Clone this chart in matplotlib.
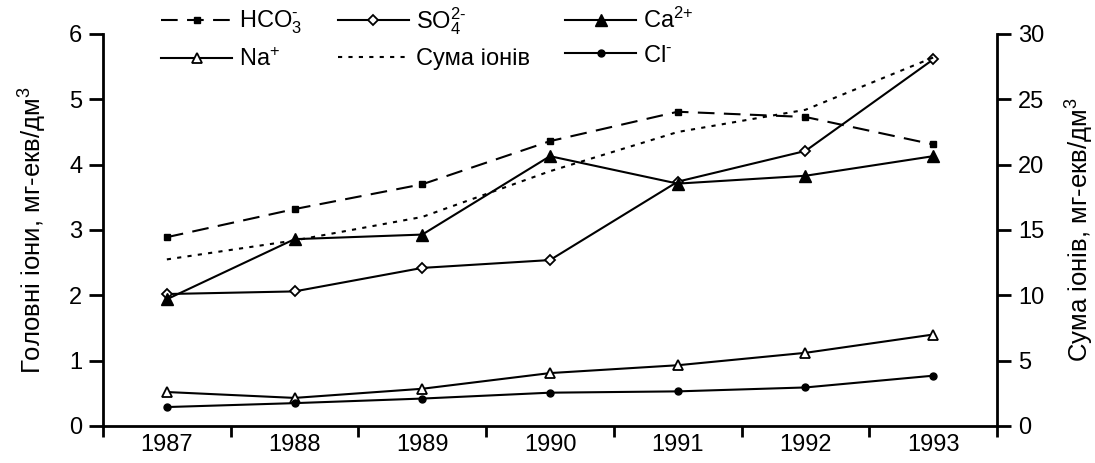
import matplotlib
matplotlib.use("Agg")
import matplotlib.pyplot as plt

plt.rcParams['font.family'] = ['Liberation Sans', 'DejaVu Sans']
plt.rcParams['mathtext.fontset'] = 'custom'
plt.rcParams['mathtext.rm'] = 'Liberation Sans'
plt.rcParams['mathtext.it'] = 'Liberation Sans'
plt.rcParams['mathtext.default'] = 'regular'

years = ['1987', '1988', '1989', '1990', '1991', '1992', '1993']
hco3 = [2.89, 3.32, 3.70, 4.36, 4.81, 4.73, 4.31]
so4 = [2.02, 2.06, 2.42, 2.54, 3.74, 4.21, 5.61]
ca = [1.94, 2.86, 2.93, 4.13, 3.71, 3.83, 4.13]
na = [0.52, 0.43, 0.57, 0.81, 0.93, 1.12, 1.40]
cl = [0.29, 0.35, 0.42, 0.51, 0.53, 0.59, 0.77]
suma = [12.75, 14.2, 16.0, 19.5, 22.5, 24.2, 28.2]

fig = plt.figure(figsize=(10.95, 4.63), dpi=100)
ax = fig.add_axes([103/1095, 1-426/463, (997-103)/1095, (426-34)/463])
ax2 = ax.twinx()

x = list(range(len(years)))
lw = 1.5
h1, = ax.plot(x, hco3, color='black', lw=lw, ls=(0, (8, 4.5)), marker='s', ms=5,
              mfc='black', label='HCO$_3^{‐}$')
h2, = ax.plot(x, so4, color='black', lw=lw, marker='D', ms=5, mfc='white',
              mew=1.3, label=r'SO$_4^{\text{2‐}}$')
h3, = ax.plot(x, ca, color='black', lw=lw, marker='^', ms=8, mfc='black',
              label=r'Ca$^{\text{2+}}$')
h4, = ax.plot(x, na, color='black', lw=lw, marker='^', ms=7, mfc='white',
              mew=1.3, label=r'Na$^{\text{+}}$')
h6, = ax.plot(x, cl, color='black', lw=lw, marker='o', ms=5, mfc='black',
              label='Cl$^{‐}$')
h5, = ax2.plot(x, suma, color='black', lw=lw, ls=(0, (2.0, 3.0)),
               label='Сума іонів')

ax.set_xlim(-0.5, 6.5)
ax.set_ylim(0, 6)
ax2.set_ylim(0, 30)
ax.set_yticks(range(0, 7))
ax2.set_yticks(range(0, 31, 5))

fs = 17
ax.set_xticks([i - 0.5 for i in range(len(years) + 1)])
ax.set_xticklabels([])
ax.set_xticks(x, minor=True)
ax.set_xticklabels(years, minor=True)
ax.tick_params(axis='x', which='minor', length=0, pad=6, labelsize=fs)
ax.tick_params(axis='x', which='major', length=8, width=2, direction='out')
ax.tick_params(axis='y', length=10, width=2, direction='out', labelsize=fs, pad=5)
ax2.tick_params(axis='y', length=10, width=2, direction='out', labelsize=fs, pad=5)

for a in (ax, ax2):
    a.spines['top'].set_visible(False)
    for s in ('left', 'right', 'bottom'):
        a.spines[s].set_linewidth(2)
ax.spines['right'].set_visible(False)
ax2.spines['left'].set_visible(False)
ax2.spines['bottom'].set_visible(False)

ax.set_ylabel('Головні іони, мг-екв/дм$^3$', fontsize=18.5, labelpad=14)
ax2.set_ylabel('Сума іонів, мг-екв/дм$^3$', fontsize=18.5, labelpad=14)

handles = [h1, h4, h2, h5, h3, h6]
leg = fig.legend(handles=handles, labels=[h.get_label() for h in handles],
                 ncol=3, frameon=False, fontsize=17, handlelength=3.0,
                 columnspacing=1.5, handletextpad=0.3, labelspacing=0.5,
                 loc='upper left', bbox_to_anchor=(152/1095, 1.01),
                 borderaxespad=0.0)

fig.savefig('out.png', dpi=100)
